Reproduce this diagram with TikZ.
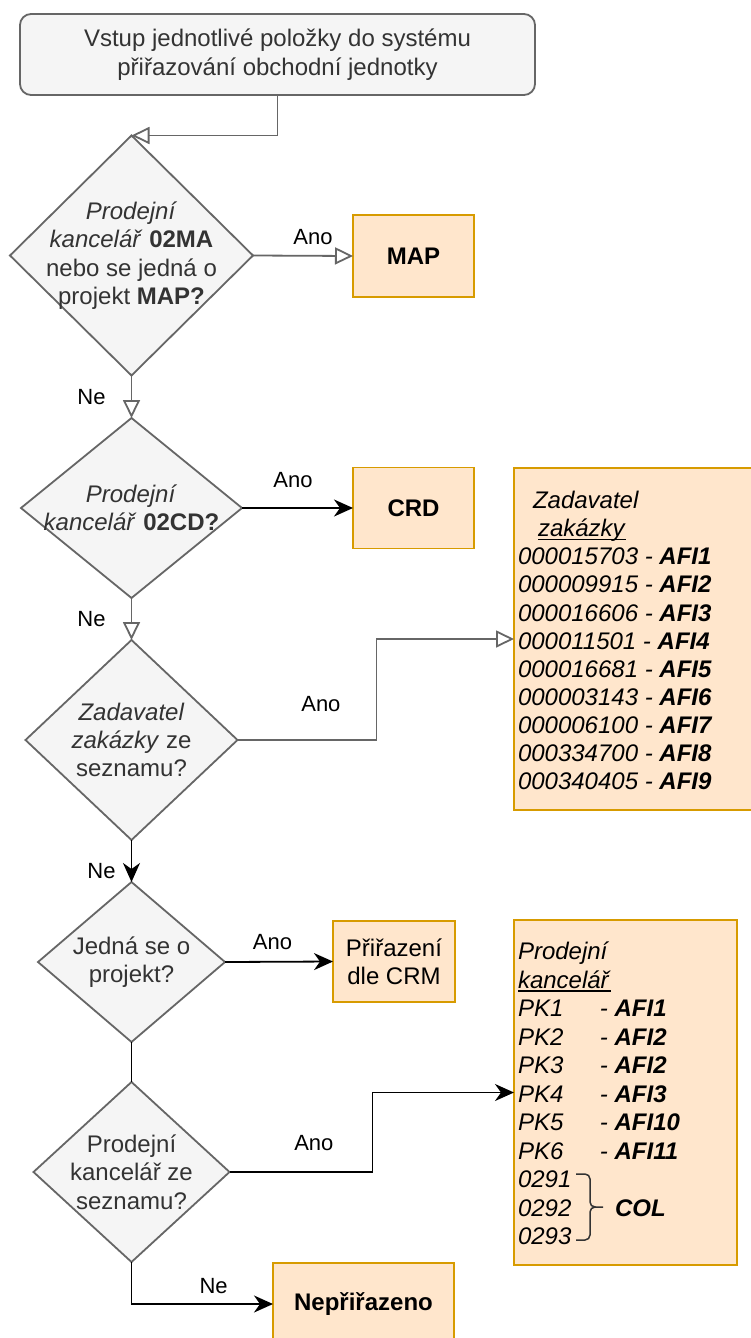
\documentclass[tikz,border=0pt]{standalone}
\usepackage{fontspec}
\setmainfont{Liberation Sans}
\usetikzlibrary{shapes.geometric,arrows.meta}

\definecolor{shapegray}{HTML}{F5F5F5}
\definecolor{linegray}{HTML}{666666}
\definecolor{txtgray}{HTML}{333333}
\definecolor{boxfill}{HTML}{FFE6CC}
\definecolor{boxline}{HTML}{D79B00}

% underline drawn just below the baseline, through the descenders
\newcommand{\ulin}[1]{\setbox0\hbox{#1}\rlap{\rule[-3.5pt]{\wd0}{1.2pt}}\box0}

\begin{document}
\begin{tikzpicture}[x=1pt,y=-1pt,
  font=\fontsize{24}{28.4}\selectfont,
  every node/.style={outer sep=0pt, inner sep=0pt},
  startbox/.style={rectangle, rounded corners=11pt, draw=linegray, fill=shapegray,
    line width=1.8pt, text=txtgray, align=center},
  decision/.style={diamond, draw=linegray, fill=shapegray, line width=1.8pt},
  qtext/.style={text=txtgray, align=center},
  outbox/.style={rectangle, draw=boxline, fill=boxfill, line width=1.8pt,
    text=black, align=center},
  listtxt/.style={anchor=base west, text=black},
  lbl/.style={font=\fontsize{22}{26}\selectfont, text=black},
  openarr/.style={draw=linegray, line width=1.8pt,
    -{Triangle[open, length=18pt, width=17pt]}},
  solidarr/.style={draw=black, line width=1.8pt,
    -{Stealth[length=19pt, width=17pt, inset=6pt]}},
  plainline/.style={draw=black, line width=1.8pt},
  bracket/.style={draw=txtgray, line width=1.5pt, rounded corners=5pt}
]
\path[fill=white] (0,0) rectangle (750,1338);
\useasboundingbox (0,0) rectangle (750,1338);

% ---- start
\node[startbox, minimum width=515pt, minimum height=81pt] (start) at (277.5,54.5)
  {Vstup jednotlivé položky do systému\\přiřazování obchodní jednotky};

% ---- decisions
\node[decision, minimum width=243pt, minimum height=240pt,
  label={[qtext]center:{\textit{Prodejní}\\\textit{kancelář} \textbf{02MA}\\nebo se jedná o\\projekt \textbf{MAP?}}}]
  (d1) at (131.5,255.5) {};
\node[decision, minimum width=221pt, minimum height=180pt,
  label={[qtext]center:{\textit{Prodejní}\\\textit{kancelář} \textbf{02CD?}}}]
  (d2) at (131.5,508) {};
\node[decision, minimum width=212pt, minimum height=200pt,
  label={[qtext]center:{\textit{Zadavatel}\\\textit{zakázky} ze\\seznamu?}}]
  (d3) at (131.5,740) {};
\node[decision, minimum width=187pt, minimum height=160pt,
  label={[qtext]center:{Jedná se o\\projekt?}}]
  (d4) at (131.5,962) {};
\node[decision, minimum width=196pt, minimum height=180pt,
  label={[qtext]center:{Prodejní\\kancelář ze\\seznamu?}}]
  (d5) at (131.5,1172) {};

% ---- outcomes
\node[outbox, minimum width=121pt, minimum height=82pt] (map) at (413.5,256) {\textbf{MAP}};
\node[outbox, minimum width=121pt, minimum height=81pt] (crd) at (413.5,508) {\textbf{CRD}};
\node[outbox, minimum width=122pt, minimum height=81pt] (crm) at (394,961.5) {Přiřazení\\dle CRM};
\node[outbox, minimum width=181pt, minimum height=82pt] (nep) at (363.5,1304) {\textbf{Nepřiřazeno}};

% ---- list of customers
\node[outbox, anchor=north west, minimum width=256pt, minimum height=342pt] (list1) at (514,468) {};
\node[listtxt] (zh1) at (533,508.6) {\textit{Zadavatel}};
\node[listtxt] (zh2) at (538,536.7) {\ulin{\textit{zakázky}}};
\foreach \num/\afi [count=\k from 2] in {000015703/1,000009915/2,000016606/3,000011501/4,
    000016681/5,000003143/6,000006100/7,000334700/8,000340405/9}
  \node[listtxt] (z\k) at (518,{508.6+28.1*\k}) {\textit{\num\ - \textbf{AFI\afi}}};

% ---- list of sales offices
\node[outbox, anchor=north west, minimum width=223pt, minimum height=345pt] (list2) at (514,920) {};
\node[listtxt] (ph1) at (518,959.6) {\textit{Prodejní}};
\node[listtxt] (ph2) at (518,988.1) {\ulin{\textit{kancelář}}};
\foreach \pk/\afi [count=\k from 2] in {1/1,2/2,3/2,4/3,5/10,6/11}
  \node[listtxt] (pk\pk) at (518,{959.6+28.5*\k})
    {\makebox[82pt][l]{\textit{PK\pk}}\textit{- \textbf{AFI\afi}}};
\foreach \pkc [count=\k from 8] in {0291,0292,0293}
  \node[listtxt] (o\pkc) at (518,{959.6+28.5*\k}) {\textit{\pkc}};
\node[listtxt] (col) at (615,{959.6+28.5*9}) {\textit{\textbf{COL}}};
\draw[bracket] (576,1174) -- (590,1174) -- (590,1207) -- (603,1207);
\draw[bracket] (576,1240) -- (590,1240) -- (590,1207) -- (596,1207);

% ---- connectors
\draw[openarr] (start.south) |- (d1.north);
\draw[openarr] (d1.east) -- node[lbl, pos=0.6, yshift=19pt] {Ano} (map.west);
\draw[openarr] (d1.south) -- node[lbl, pos=0.5, xshift=-40pt] {Ne} (d2.north);
\draw[solidarr] (d2.east) -- node[lbl, pos=0.46, yshift=28pt] {Ano} (crd.west);
\draw[openarr] (d2.south) -- node[lbl, pos=0.5, xshift=-40pt] {Ne} (d3.north);
\draw[openarr] (d3.east) -- node[lbl, pos=0.6, yshift=36pt] {Ano} ++(139,0) |- (list1.west);
\draw[solidarr] (d3.south) -- node[lbl, pos=0.74, xshift=-30pt] {Ne} (d4.north);
\draw[solidarr] (d4.east) -- node[lbl, pos=0.44, yshift=20pt] {Ano} (crm.west);
\draw[plainline] (d4.south) -- (d5.north);
\draw[solidarr] (d5.east) -- node[lbl, pos=0.59, yshift=29pt] {Ano} ++(143,0) |- (list2.west);
\draw[solidarr] (d5.south) |- node[lbl, pos=0.79, yshift=18pt] {Ne} (nep.west);
\end{tikzpicture}
\end{document}
